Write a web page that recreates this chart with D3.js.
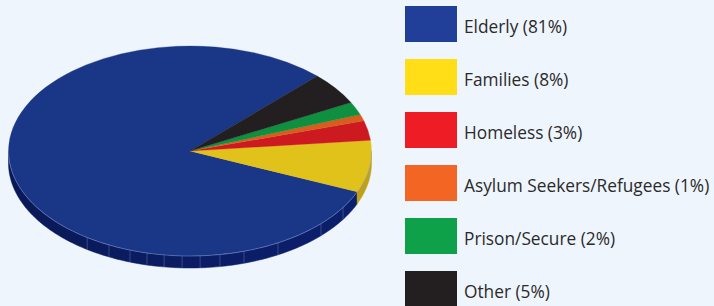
<!DOCTYPE html>
<html>
<head>
<meta charset="utf-8">
<script src="https://cdn.jsdelivr.net/npm/d3@7"></script>
<style>
  html, body { margin: 0; padding: 0; background: #eef5fc; }
  svg { display: block; }
</style>
</head>
<body>
<svg id="chart" width="714" height="306"></svg>
<script>
// ---- data ----
const categories = ["Elderly", "Families", "Homeless", "Asylum Seekers/Refugees", "Prison/Secure", "Other"];
const values = [81, 8, 3, 1, 2, 5];
const legendLabels = ["Elderly (81%)", "Families (8%)", "Homeless (3%)", "Asylum Seekers/Refugees (1%)", "Prison/Secure (2%)", "Other (5%)"];
const legendColors = ["#213e99", "#ffdd17", "#ee1c25", "#f26522", "#0fa14a", "#231f20"];
const topColors = ["#1a3686", "#e0c21a", "#cd1a21", "#d85c1c", "#0f9040", "#231f20"];
const sideColors = ["#0b1d66", "#b89a10", "#9c1218", "#a8461a", "#0b6c30", "#151213"];

// ---- layout ----
const W = 714, H = 306;
const cx = 190, cy = 151, rx = 181.5, ry = 105, depth = 12;
const deg = Math.PI / 180;
const startA = 44.5 * deg;           // d3 angle (0 = 12 o'clock, clockwise)
const sideSeams = [124.5, 116.5, 109.3, 103.7, 98.2, 92.5, 86.8, 80.5, 72.7, 61, 43.8, 32.5, 17, 10]; // screen degrees

const svg = d3.select("#chart");
svg.append("rect").attr("width", W).attr("height", H).attr("fill", "#eef5fc");

const data = categories.map((c, i) => ({ cat: c, value: values[i], i }));
const pie = d3.pie().sort(null).value(d => d.value)
  .startAngle(startA).endAngle(startA - 2 * Math.PI);
const arcs = pie(data);

const px = a => cx + rx * Math.sin(a);
const py = a => cy - ry * Math.cos(a);

// gradient for side
const defs = svg.append("defs");
sideColors.forEach((c, i) => {
  const g = defs.append("linearGradient").attr("id", "side" + i)
    .attr("gradientUnits", "userSpaceOnUse")
    .attr("x1", cx - rx).attr("x2", cx + rx).attr("y1", 0).attr("y2", 0);
  g.append("stop").attr("offset", 0).attr("stop-color", d3.color(c).darker(0.45));
  g.append("stop").attr("offset", 0.6).attr("stop-color", c);
  g.append("stop").attr("offset", 1).attr("stop-color", d3.color(c).brighter(0.15));
});

// side walls (front half: d3 angle in (90deg, 270deg) mod 360)
const sideG = svg.append("g");
arcs.forEach(a => {
  const lo = Math.min(a.startAngle, a.endAngle), hi = Math.max(a.startAngle, a.endAngle);
  for (let k = -2; k <= 1; k++) {
    const f0 = Math.PI / 2 + k * 2 * Math.PI, f1 = 3 * Math.PI / 2 + k * 2 * Math.PI;
    const s = Math.max(lo, f0), e = Math.min(hi, f1);
    if (e > s) {
      const n = Math.max(4, Math.ceil((e - s) / (1 * deg)));
      const pts = d3.range(n + 1).map(j => s + (e - s) * j / n);
      const top = pts.map(t => [px(t), py(t)]);
      const bot = pts.slice().reverse().map(t => [px(t), py(t) + depth]);
      sideG.append("path")
        .attr("d", d3.line()(top.concat(bot)) + "Z")
        .attr("fill", `url(#side${a.data.i})`)
        .attr("stroke", `url(#side${a.data.i})`).attr("stroke-width", 0.5);
    }
  }
});
// seams on side
sideSeams.forEach(t => {
  const a = (t + 90) * deg;
  sideG.append("line")
    .attr("x1", px(a)).attr("y1", py(a)).attr("x2", px(a)).attr("y2", py(a) + depth)
    .attr("stroke", "#8a9ad0").attr("stroke-opacity", 0.45).attr("stroke-width", 0.8);
});

// top face: circle pie scaled vertically
const arcGen = d3.arc().innerRadius(0).outerRadius(rx);
const topG = svg.append("g").attr("transform", `translate(${cx},${cy}) scale(1,${ry / rx})`);
topG.selectAll("path").data(arcs).join("path")
  .attr("d", arcGen)
  .attr("fill", d => topColors[d.data.i])
  .attr("stroke", d => topColors[d.data.i]).attr("stroke-width", 0.4);

// light rim along front edge
const rimPts = d3.range(0, 181).map(j => (90 + j) * deg);
svg.append("path")
  .attr("d", d3.line()(rimPts.map(t => [px(t), py(t)])))
  .attr("fill", "none").attr("stroke", "#8fa3dd").attr("stroke-opacity", 0.55).attr("stroke-width", 0.8);

// legend
const ly = d3.scaleBand().domain(categories).range([6, 6 + 53 * 6]).paddingInner(0);
const lg = svg.append("g");
categories.forEach((c, i) => {
  const y0 = ly(c);
  lg.append("rect").attr("x", 405).attr("y", y0).attr("width", 52).attr("height", 36)
    .attr("fill", legendColors[i]);
  lg.append("text").attr("x", 464).attr("y", y0 + 26.5)
    .attr("font-family", "'Open Sans', 'Noto Sans', sans-serif")
    .attr("font-size", 17.3).attr("fill", "#2b2a2b")
    .text(legendLabels[i]);
});
</script>
</body>
</html>
